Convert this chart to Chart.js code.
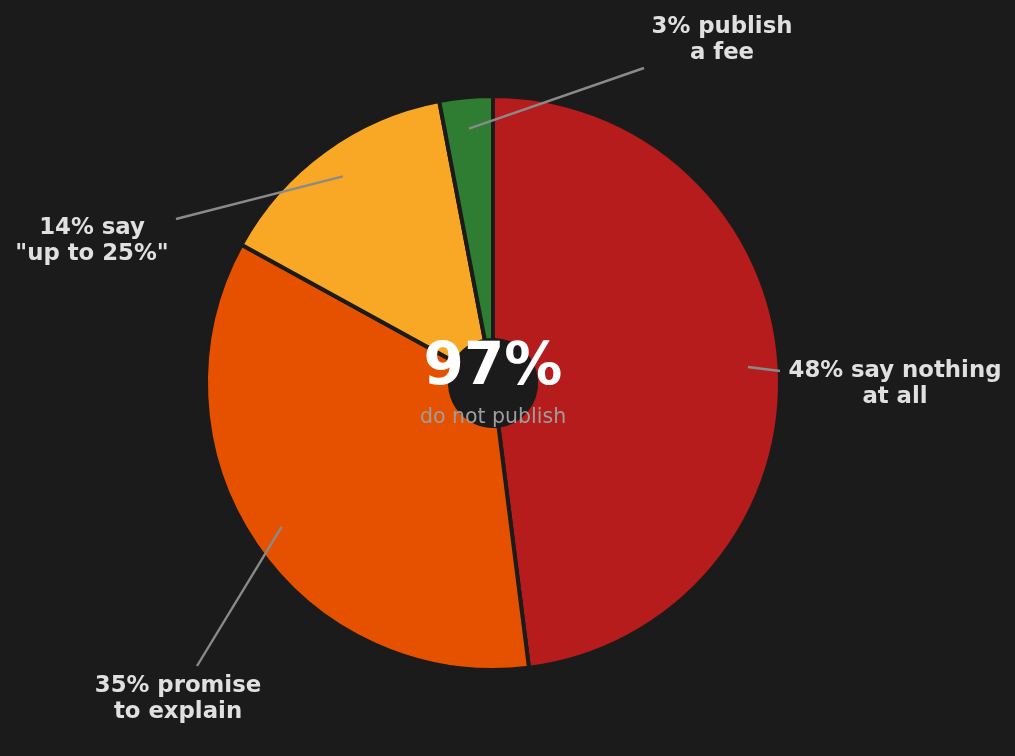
<!DOCTYPE html>
<html>
<head>
<meta charset="utf-8">
<script src="https://cdn.jsdelivr.net/npm/chart.js@4"></script>
<style>
  html, body { margin: 0; padding: 0; background: #1b1b1b; }
  #wrap { width: 1015px; height: 756px; }
</style>
</head>
<body>
<div id="wrap"><canvas id="grafico"></canvas></div>
<script>
// dados do gráfico
const categorias = ['48% say nothing\nat all', '35% promise\nto explain', '14% say\n"up to 25%"', '3% publish\na fee'];
const valores = [48, 35, 14, 3];
const cores = ['#b71c1c', '#e65100', '#f9a825', '#2e7d32'];
const textoCentro = '97%';
const subtextoCentro = 'do not publish';

// onde fica o fim da linha e o texto de cada etiqueta (layout)
const posEtiquetas = [
    {fim: [780, 371], texto: [895, 371]},
    {fim: [197, 666], texto: [178, 686]},
    {fim: [176, 219], texto: [92, 228]},
    {fim: [644, 68], texto: [722, 27]}
];

// plugin que desenha as etiquetas com linhas e o texto do centro
const etiquetas = {
    id: 'etiquetas',
    afterDatasetsDraw(chart) {
        const ctx = chart.ctx;
        const arcs = chart.getDatasetMeta(0).data;
        ctx.save();
        arcs.forEach((arc, i) => {
            const meio = (arc.startAngle + arc.endAngle) / 2;
            const r = arc.outerRadius * 0.89;
            const x0 = arc.x + Math.cos(meio) * r;
            const y0 = arc.y + Math.sin(meio) * r;
            const p = posEtiquetas[i];
            ctx.strokeStyle = '#8a8a8a';
            ctx.lineWidth = 2.4;
            ctx.beginPath();
            ctx.moveTo(x0, y0);
            ctx.lineTo(p.fim[0], p.fim[1]);
            ctx.stroke();

            ctx.fillStyle = '#e0e0e0';
            ctx.font = 'bold 22.8px "DejaVu Sans"';
            ctx.textAlign = 'center';
            ctx.textBaseline = 'middle';
            categorias[i].split('\n').forEach((linha, j) => {
                ctx.fillText(linha, p.texto[0], p.texto[1] + j * 26);
            });
        });

        // texto do centro
        const cx = arcs[0].x, cy = arcs[0].y;
        ctx.fillStyle = '#ffffff';
        ctx.font = 'bold 58px "DejaVu Sans"';
        ctx.textAlign = 'center';
        ctx.textBaseline = 'middle';
        ctx.fillText(textoCentro, cx, cy - 14);
        ctx.fillStyle = '#9e9e9e';
        ctx.font = '20.5px "DejaVu Sans"';
        ctx.fillText(subtextoCentro, cx, cy + 35);
        ctx.restore();
    }
};

const grafico = new Chart(document.getElementById('grafico'), {
    type: 'doughnut',
    data: {
        labels: categorias,
        datasets: [{
            data: valores,
            backgroundColor: cores,
            borderColor: '#1b1b1b',
            borderWidth: 4,
            hoverOffset: 0
        }]
    },
    options: {
        responsive: true,
        maintainAspectRatio: false,
        animation: false,
        cutout: '15%',
        layout: {
            padding: {top: 94, bottom: 84, left: 0, right: 29}
        },
        plugins: {
            legend: {display: false},
            tooltip: {enabled: false}
        }
    },
    plugins: [etiquetas]
});
</script>
</body>
</html>
